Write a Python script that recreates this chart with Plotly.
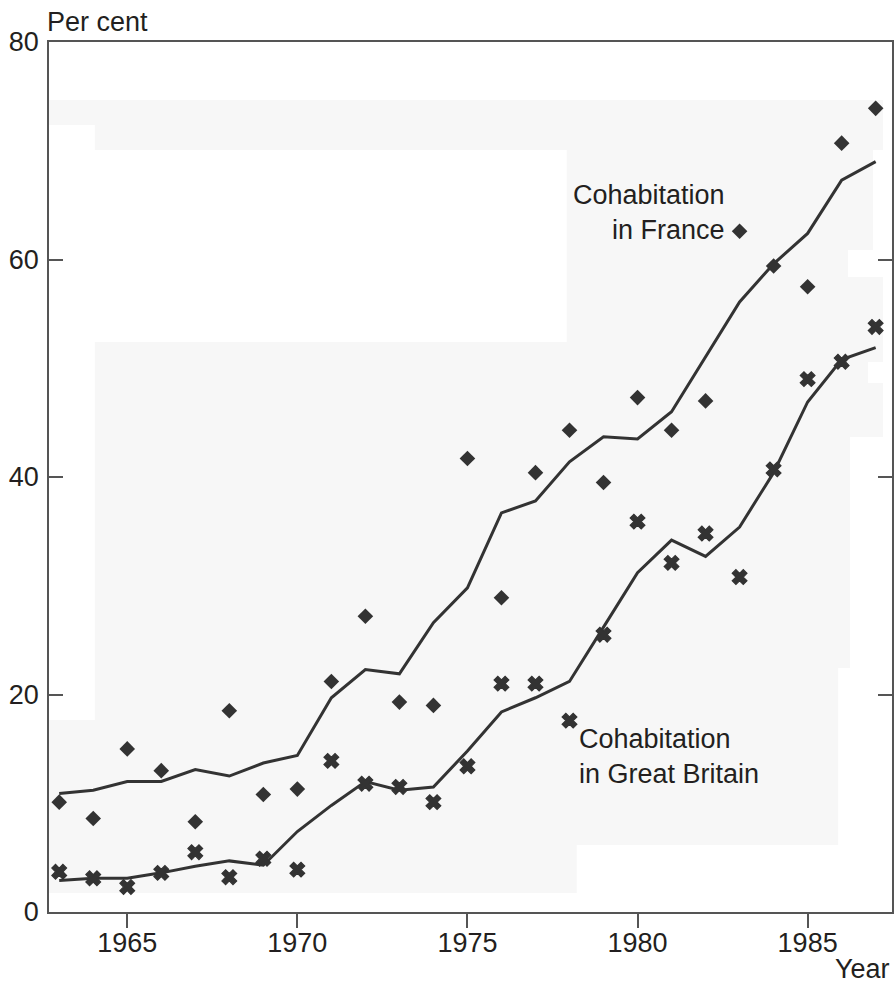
import plotly.graph_objects as go

# Years covered by the series
years = list(range(1963, 1988))

# Cohabitation in France: yearly observations and smoothed trend (per cent)
france_obs = [10.1, 8.6, 15.0, 13.0, 8.3, 18.5, 10.8, 11.3, 21.2, 27.2, 19.3, 19.0,
              41.7, 28.9, 40.4, 44.3, 39.5, 47.3, 44.3, 47.0, 62.6, 59.4, 57.5, 70.7, 73.9]
france_trend = [10.9, 11.2, 12.0, 12.0, 13.1, 12.5, 13.7, 14.4, 19.7, 22.3, 21.9, 26.6,
                29.8, 36.7, 37.8, 41.4, 43.7, 43.5, 46.0, 51.0, 56.1, 59.6, 62.4, 67.3, 69.0]

# Cohabitation in Great Britain: yearly observations and smoothed trend (per cent)
gb_obs = [3.7, 3.1, 2.3, 3.6, 5.5, 3.2, 4.9, 3.9, 13.9, 11.8, 11.5, 10.1,
          13.4, 21.0, 21.0, 17.6, 25.5, 35.9, 32.1, 34.8, 30.8, 40.7, 49.0, 50.6, 53.8]
gb_trend = [2.9, 3.1, 3.1, 3.6, 4.2, 4.7, 4.3, 7.4, 9.8, 12.0, 11.2, 11.5,
            14.8, 18.4, 19.7, 21.2, 26.2, 31.2, 34.2, 32.7, 35.4, 40.4, 46.9, 50.8, 51.9]

x_ticks = [1965, 1970, 1975, 1980, 1985]
y_ticks = [0, 20, 40, 60, 80]

INK = "#333333"
TEXT = "#231f20"
FONT = "Liberation Sans, Arial, sans-serif"
FS = 27
W, H = 895, 985
L, R, T, B = 49, 1, 42, 73

fig = go.Figure()

for trend in (france_trend, gb_trend):
    fig.add_trace(go.Scatter(x=years, y=trend, mode="lines",
                             line=dict(color=INK, width=3), hoverinfo="skip"))

fig.add_trace(go.Scatter(x=years, y=france_obs, mode="markers", name="France",
                         marker=dict(symbol="diamond", size=12, color=INK)))
fig.add_trace(go.Scatter(x=years, y=gb_obs, mode="markers", name="Great Britain",
                         marker=dict(symbol="x", size=13, color=INK,
                                     line=dict(color=INK, width=1.2))))

# Faint grey paper tone behind the plot (pixel boxes: x0, x1, y0, y1)
tone_boxes = [
    (49, 885, 100, 125), (95, 885, 125, 150), (568, 875, 150, 250),
    (568, 850, 250, 277), (568, 885, 277, 362), (95, 885, 342, 362),
    (95, 870, 362, 383), (95, 885, 383, 437), (95, 852, 437, 668),
    (95, 840, 668, 720), (49, 840, 720, 845), (49, 578, 845, 893),
]
pw, ph = W - L - R, H - T - B
shapes = []
for x0, x1, y0, y1 in tone_boxes:
    shapes.append(dict(type="rect", xref="paper", yref="paper", layer="below",
                       x0=(x0 - L) / pw, x1=(x1 - L) / pw,
                       y0=(H - B - y1) / ph, y1=(H - B - y0) / ph,
                       line=dict(width=0), fillcolor="#f7f7f7"))

annotations = [
    dict(text="Cohabitation<br>in France", x=1982.5, y=64.4, xref="x", yref="y",
         xanchor="right", yanchor="middle", align="right", xshift=4, yshift=-1,
         showarrow=False),
    dict(text="Cohabitation<br>in Great Britain", x=1978.25, y=14.7, xref="x", yref="y",
         xanchor="left", yanchor="middle", align="left", xshift=-1, yshift=-4,
         showarrow=False),
    dict(text="Per cent", x=0, y=1, xref="paper", yref="paper", xanchor="left",
         yanchor="middle", xshift=-4, yshift=20, showarrow=False),
    dict(text="Year", x=1, y=0, xref="paper", yref="paper", xanchor="right",
         yanchor="middle", xshift=0, yshift=-57, showarrow=False),
]

fig.update_layout(
    width=W, height=H,
    margin=dict(l=L, r=R, t=T, b=B, pad=0),
    paper_bgcolor="white", plot_bgcolor="white",
    showlegend=False,
    font=dict(family=FONT, size=FS, color=TEXT),
    shapes=shapes,
    annotations=annotations,
    xaxis=dict(range=[1962.7, 1987.48], tickvals=x_ticks, ticks="outside", ticklen=14,
               tickwidth=1.5, tickcolor="#555555", showline=True, linecolor="#555555",
               linewidth=1.5, mirror=True, showgrid=False, zeroline=False,
               ticklabelstandoff=-8, tickfont=dict(size=FS, color=TEXT)),
    yaxis=dict(range=[0, 80], tickvals=y_ticks, ticks="inside", ticklen=14,
               tickwidth=1.5, tickcolor="#555555", showline=True, linecolor="#555555",
               linewidth=1.5, mirror="ticks", showgrid=False, zeroline=False,
               ticklabelstandoff=3, tickfont=dict(size=FS, color=TEXT)),
)

fig.write_html("out.html")
